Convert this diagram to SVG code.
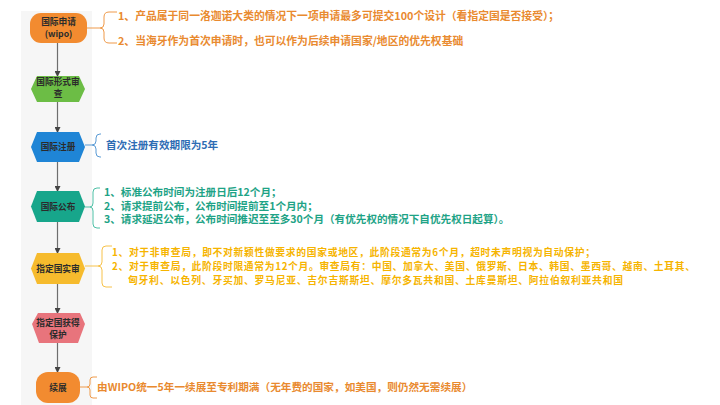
<svg xmlns="http://www.w3.org/2000/svg" width="720" height="405" viewBox="0 0 720 405">
<defs>
<marker id="arr" viewBox="0 0 6 6" refX="5" refY="3" markerWidth="6" markerHeight="6" orient="auto" markerUnits="userSpaceOnUse">
<path d="M0,0 L6,3 L0,6 Z" fill="#444"/>
</marker>
<style>
.nl{font-family:"Noto Sans CJK SC","Liberation Sans",sans-serif;font-size:8.7px;font-weight:bold;fill:#2b2b2b;text-anchor:middle}
.t{font-family:"Noto Sans CJK SC","Liberation Sans",sans-serif;font-weight:bold}
.y{font-size:9.8px;fill:#f6b400}
.br{fill:none;stroke-width:1}
.conn{stroke:#6e6e6e;stroke-width:1.2;fill:none}
</style>
</defs>
<rect width="720" height="405" fill="#ffffff"/>
<rect x="21" y="11" width="71" height="394" fill="#f6f6f6"/>
<g id="connectors">
<line class="conn" x1="57.5" y1="43" x2="57.5" y2="76" marker-end="url(#arr)"/>
<line class="conn" x1="57.5" y1="102" x2="57.5" y2="132" marker-end="url(#arr)"/>
<line class="conn" x1="57.5" y1="162" x2="57.5" y2="191" marker-end="url(#arr)"/>
<line class="conn" x1="57.5" y1="222" x2="57.5" y2="253" marker-end="url(#arr)"/>
<line class="conn" x1="57.5" y1="284" x2="57.5" y2="313" marker-end="url(#arr)"/>
<line class="conn" x1="57.5" y1="343" x2="57.5" y2="372" marker-end="url(#arr)"/>
</g>
<g id="n1">
<rect x="30" y="13" width="57" height="30" rx="11" fill="#f28b30"/>
<text class="nl" x="58.5" y="25">国际申请</text>
<text class="nl" x="58.5" y="37">(wipo)</text>
<path class="br" stroke="#ef9a4a" d="M87,28 L100,28 Q104,28 104,24 L104,17 Q104,12 109,12 L117,12 M100,28 Q104,28 104,32 L104,38 Q104,43 109,43 L117,43"/>
<text class="t" font-size="10.8" fill="#e98a2f" x="118" y="20">1、产品属于同一洛迦诺大类的情况下一项申请最多可提交100个设计（看指定国是否接受）；</text>
<text class="t" font-size="10.8" fill="#e98a2f" x="118" y="45">2、当海牙作为首次申请时，也可以作为后续申请国家/地区的优先权基础</text>
</g>
<g id="n2">
<polygon points="31,89 37,76 79,76 85,89 79,102 37,102" fill="#6cbd45"/>
<text class="nl" x="58" y="85">国际形式审</text>
<text class="nl" x="58" y="97">查</text>
</g>
<g id="n3">
<polygon points="31,147 37,132 79,132 85,147 79,162 37,162" fill="#1f85d6"/>
<text class="nl" x="58" y="150">国际注册</text>
<path class="br" stroke="#5b9bd5" d="M85,145 L92,145 Q96,145 96,141 L96,138 Q96,134 100,134 L101,134 M92,145 Q96,145 96,149 L96,153 Q96,157 100,157 L101,157"/>
<text class="t" font-size="10.6" fill="#2e6db4" x="106" y="149">首次注册有效期限为5年</text>
</g>
<g id="n4">
<polygon points="31,206.5 37,191 79,191 85,206.5 79,222 37,222" fill="#17a68b"/>
<text class="nl" x="58" y="209.5">国际公布</text>
<path class="br" stroke="#4dbfa5" d="M85,207 L90,207 Q93,207 93,203 L93,192 Q93,188 97,188 L100,188 M90,207 Q93,207 93,211 L93,224 Q93,228 97,228 L100,228"/>
<text class="t" font-size="10.6" fill="#1ea386" x="104" y="196">1、标准公布时间为注册日后12个月；</text>
<text class="t" font-size="10.6" fill="#1ea386" x="104" y="209.5">2、请求提前公布，公布时间提前至1个月内；</text>
<text class="t" font-size="10.6" fill="#1ea386" x="104" y="223">3、请求延迟公布，公布时间推迟至至多30个月（有优先权的情况下自优先权日起算）。</text>
</g>
<g id="n5">
<polygon points="31,268.5 37,253 79,253 85,268.5 79,284 37,284" fill="#f6bb2d"/>
<text class="nl" x="58" y="271.5">指定国实审</text>
<path class="br" stroke="#f7c24a" d="M85,266 L98,266 Q102,266 102,262 L102,250 Q102,246 106,246 L112,246 M98,266 Q102,266 102,270 L102,283 Q102,287 106,287 L112,287"/>
<text class="t y" x="112" y="255.8" textLength="483" lengthAdjust="spacing">1、对于非审查局，即不对新颖性做要求的国家或地区，此阶段通常为6个月，超时未声明视为自动保护；</text>
<text class="t y" x="112" y="270" textLength="583" lengthAdjust="spacing">2、对于审查局，此阶段时限通常为12个月。审查局有：中国、加拿大、美国、俄罗斯、日本、韩国、墨西哥、越南、土耳其、</text>
<text class="t y" x="128" y="284.2" textLength="495" lengthAdjust="spacing">匈牙利、以色列、牙买加、罗马尼亚、吉尔吉斯斯坦、摩尔多瓦共和国、土库曼斯坦、阿拉伯叙利亚共和国</text>
</g>
<g id="n6">
<polygon points="32,324 38,313 80,313 85,324 78,343 39,343" fill="#e8747c"/>
<text class="nl" x="58" y="325.5">指定国获得</text>
<text class="nl" x="58" y="337.5">保护</text>
</g>
<g id="n7">
<rect x="36" y="372" width="44" height="31" rx="12" fill="#f28b30"/>
<text class="nl" x="58" y="390.5">续展</text>
<path class="br" stroke="#ef9a4a" d="M80,387 L87,387 Q90,387 90,384 L90,380 Q90,377 93,377 L97,377 M87,387 Q90,387 90,390 L90,395 Q90,398 93,398 L97,398"/>
<text class="t" font-size="10.65" fill="#e98a2f" x="97" y="391">由WIPO统一5年一续展至专利期满（无年费的国家，如美国，则仍然无需续展）</text>
</g>
</svg>
